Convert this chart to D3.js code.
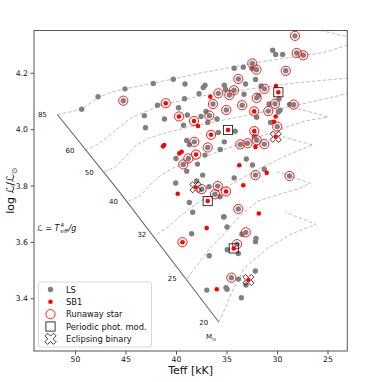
<!DOCTYPE html>
<html><head><meta charset="utf-8">
<script src="https://cdn.jsdelivr.net/npm/d3@7"></script>
<style>body{margin:0;background:#fff}svg{display:block;font-family:"DejaVu Sans",sans-serif}</style>
</head><body><svg id="c" width="382" height="382"></svg>
<script>
// ---- data ----
const lsTeff = [49.34,47.72,45.05,45.22,42.25,40.27,39.11,37.13,37.30,37.72,35.22,35.10,35.81,34.72,41.83,39.16,36.34,39.75,43.14,38.88,41.14,37.03,36.70,37.52,35.94,35.02,36.86,43.02,39.26,
28.22,30.43,30.13,29.44,28.05,27.40,32.45,33.34,34.24,32.48,32.03,29.13,33.83,32.13,34.26,33.12,33.27,31.58,31.24,29.80,32.01,31.83,33.45,30.79,30.20,28.76,28.35,29.70,29.87,30.86,32.01,30.64,29.98,
35.81,34.14,38.94,38.19,38.68,36.86,35.62,35.22,40.00,38.78,37.13,39.28,37.87,38.94,37.36,40.03,37.95,37.46,36.73,35.87,36.14,35.64,38.68,38.35,35.25,
33.64,32.92,32.25,32.01,31.26,33.04,32.43,31.26,32.13,28.76,34.24,33.83,35.28,34.95,38.45,33.09,33.47,32.08,32.13,33.96,34.93,33.83,36.71,32.15,34.52,33.81,33.07,35.05,34.95,36.95,33.53];
const lsLogL = [4.071,4.115,4.143,4.101,4.162,4.177,4.160,4.156,4.148,4.126,4.156,4.141,4.127,4.121,4.085,4.108,4.089,4.076,4.048,4.050,4.036,4.063,4.048,4.045,4.036,4.068,4.024,4.005,4.014,
4.331,4.280,4.265,4.265,4.270,4.262,4.233,4.220,4.216,4.215,4.211,4.207,4.178,4.176,4.138,4.160,4.124,4.153,4.143,4.108,4.111,4.120,4.085,4.089,4.090,4.088,4.087,4.067,4.061,4.064,4.042,4.024,4.009,
3.988,3.993,3.960,3.955,3.945,3.935,3.928,3.955,3.896,3.896,3.908,3.875,3.876,3.851,3.837,3.809,3.816,3.787,3.796,3.798,3.769,3.760,3.740,3.705,3.689,
3.946,3.950,3.974,3.961,3.947,3.894,3.873,3.858,3.837,3.834,3.827,3.717,3.688,3.653,3.629,3.634,3.627,3.612,3.601,3.592,3.572,3.559,3.551,3.497,3.473,3.468,3.447,3.438,3.432,3.429,3.402];
const sb1Teff = [41.02,36.60,39.70,38.22,37.82,34.85,36.53,41.16,41.29,39.67,39.44,38.02,39.83,38.07,35.05,36.86,30.10,29.87,32.26,30.13,30.30,32.25,30.13,32.13,33.73,31.02,33.34,31.80,36.96,39.36,34.28,32.84,35.96];
const sb1LogL = [4.092,4.115,4.045,4.029,4.011,3.997,3.980,3.944,3.939,3.914,3.920,3.910,3.771,3.794,3.779,3.745,4.153,4.131,4.063,4.045,4.026,3.993,3.973,3.937,3.872,3.845,3.801,3.701,3.649,3.599,3.577,3.465,3.432];
const runTeff = [45.22,35.81,34.72,36.34,36.70,35.02,28.22,28.05,27.40,32.45,32.03,29.13,33.83,34.26,31.24,32.01,33.45,30.20,28.35,30.86,29.98,38.19,36.86,38.78,39.28,37.46,35.87,36.14,33.64,32.92,32.01,31.26,32.13,28.76,33.83,33.09,33.96,34.52,
41.02,39.70,38.22,36.53,38.02,35.05,32.26,32.25,39.36];
const runLogL = [4.101,4.127,4.121,4.089,4.048,4.068,4.331,4.270,4.262,4.233,4.211,4.207,4.178,4.138,4.143,4.111,4.085,4.090,4.087,4.064,4.009,3.955,3.935,3.896,3.875,3.787,3.798,3.769,3.946,3.950,3.961,3.947,3.837,3.834,3.717,3.634,3.592,3.473,
4.092,4.045,4.029,3.980,3.910,3.779,4.063,3.993,3.599];
const perTeff = [34.85,36.86,29.87,34.28];
const perLogL = [3.997,3.745,4.131,3.577];
const eclTeff = [38.07,30.13,32.84];
const eclLogL = [3.794,3.973,3.465];
const zamsTeff = [51.75,45.66,35.77];
const zamsLogL = [4.052,3.780,3.316];
const trackMass = ["85","60","50","40","32","25","20"];
const trackTeff = [
 [51.75,50.50,49.34,47.72,46.34,45.05,42.28,40.30,37.92,34.65,31.39,28.22,25.35,23.04],
 [49.02,48.0,47.03,45.74,44.36,41.78,38.41,35.15,31.88,28.22,23.04],
 [47.10,46.0,45.05,44.06,42.57,40.59,38.51,34.65,31.39,28.61,23.04],
 [44.70,43.56,42.57,41.58,40.30,38.51,35.64,32.67,29.70,27.23,24.95,26.73,28.61],
 [41.90,40.79,39.80,38.91,37.92,36.14,34.65,31.68,28.71,26.44,28.22,30.00],
 [38.90,38.12,37.33,36.44,35.25,33.66,31.88,29.70,27.92,26.73,28.71,30.00],
 [35.77,35.38,34.55,33.24,30.92,28.61,26.14,29.21]];
const trackLogL = [
 [4.052,4.061,4.071,4.112,4.132,4.143,4.163,4.178,4.197,4.219,4.240,4.257,4.272,4.298],
 [3.926,3.940,3.965,4.003,4.042,4.081,4.112,4.131,4.146,4.164,4.181],
 [3.849,3.866,3.901,3.940,3.970,3.991,4.009,4.037,4.061,4.080,4.126],
 [3.745,3.763,3.802,3.834,3.862,3.887,3.922,3.961,4.000,4.029,4.043,4.061,4.078],
 [3.628,3.653,3.685,3.710,3.738,3.773,3.802,3.862,3.912,3.944,3.961,3.979],
 [3.471,3.507,3.546,3.586,3.628,3.692,3.745,3.770,3.788,3.808,3.834,3.849],
 [3.316,3.344,3.415,3.507,3.578,3.628,3.662,3.706]];
const extraTeff = [25.64,23.04];
const extraLogL = [4.350,4.328];
const xTicks = [50,45,40,35,30,25];
const yTicks = [3.4,3.6,3.8,4.0,4.2];

// ---- layout ----
const svg = d3.select("#c");
const L = 34, R = 347.3, T = 30.5, B = 351;
const x = d3.scaleLinear().domain([54.06, 23.04]).range([L, R]);
const y = d3.scaleLinear().domain([3.213, 4.35]).range([B, T]);
const ax = "#555";

const plot = svg.append("g");
plot.append("defs").append("clipPath").attr("id","clip").append("rect").attr("x",L).attr("y",T).attr("width",R-L).attr("height",B-T);
const pg = plot.append("g").attr("clip-path","url(#clip)");

const line = d3.line().x(d=>x(d[0])).y(d=>y(d[1]));
const dashed = p => pg.append("path").attr("d", line(p)).attr("fill","none").attr("stroke","#b5b5b5").attr("stroke-width",0.9).attr("stroke-dasharray","3.5,2");
trackTeff.forEach((tt,i)=> dashed(tt.map((t,j)=>[t, trackLogL[i][j]])));
dashed(extraTeff.map((t,j)=>[t, extraLogL[j]]));
pg.append("path").attr("d", line(zamsTeff.map((t,j)=>[t, zamsLogL[j]])))
  .attr("fill","none").attr("stroke","#6a6a6a").attr("stroke-width",1.1);

// track labels
const lab = svg.append("g").attr("font-size",7).attr("fill","#111").attr("text-anchor","end");
trackMass.forEach((m,i)=>{
  lab.append("text").attr("x", x(trackTeff[i][0]) - 10.5).attr("y", y(trackLogL[i][0]) + 2.8).text(m);
});
const ms = lab.append("text").attr("x", x(37.03)).attr("y", y(3.255)).attr("text-anchor","start");
ms.append("tspan").text("M");
ms.append("tspan").attr("font-size",5).attr("dy",1.5).text("⊙");

// points
pg.selectAll(".ls").data(lsTeff).join("circle").attr("cx",d=>x(d)).attr("cy",(d,i)=>y(lsLogL[i])).attr("r",2.7).attr("fill","#808080");
pg.selectAll(".sb").data(sb1Teff).join("circle").attr("cx",d=>x(d)).attr("cy",(d,i)=>y(sb1LogL[i])).attr("r",2.3).attr("fill","#ff0000");
pg.selectAll(".ru").data(runTeff).join("circle").attr("cx",d=>x(d)).attr("cy",(d,i)=>y(runLogL[i])).attr("r",4.6).attr("fill","none").attr("stroke","#ff0000").attr("stroke-width",0.9);
pg.selectAll(".pe").data(perTeff).join("rect").attr("x",d=>x(d)-4.6).attr("y",(d,i)=>y(perLogL[i])-4.6).attr("width",9.2).attr("height",9.2).attr("fill","none").attr("stroke","#222").attr("stroke-width",0.9);
function xPath(a,w){
  const p=[[w,w],[w,a],[-w,a],[-w,w],[-a,w],[-a,-w],[-w,-w],[-w,-a],[w,-a],[w,-w],[a,-w],[a,w]];
  const c=Math.SQRT1_2;
  return "M"+p.map(q=>[(q[0]-q[1])*c,(q[0]+q[1])*c].map(v=>v.toFixed(2)).join(",")).join("L")+"Z";
}
pg.selectAll(".ec").data(eclTeff).join("path").attr("d",xPath(6,1.9)).attr("transform",(d,i)=>`translate(${x(d)},${y(eclLogL[i])})`).attr("fill","none").attr("stroke","#111").attr("stroke-width",0.8);

// axes
plot.append("rect").attr("x",L).attr("y",T).attr("width",R-L).attr("height",B-T).attr("fill","none").attr("stroke",ax).attr("stroke-width",1);
const gx = svg.append("g").attr("transform",`translate(0,${B})`).call(d3.axisBottom(x).tickValues(xTicks).tickFormat(d3.format("d")).tickSize(3.5).tickPadding(2.5));
const gy = svg.append("g").attr("transform",`translate(${L},0)`).call(d3.axisLeft(y).tickValues(yTicks).tickFormat(d3.format(".1f")).tickSize(3.5).tickPadding(2.5));
[gx,gy].forEach(g=>{g.select(".domain").remove();g.selectAll("line").attr("stroke",ax);g.selectAll("text").attr("font-size",7.7).attr("fill","#111").attr("font-family","DejaVu Sans");});

svg.append("text").attr("x",(L+R)/2).attr("y",374).attr("text-anchor","middle").attr("font-size",11).attr("fill","#111").text("Teff [kK]");
const yl = svg.append("text").attr("transform",`translate(14,${(T+B)/2}) rotate(-90)`).attr("text-anchor","middle").attr("font-size",11).attr("fill","#111");
yl.append("tspan").text("log ℒ/ℒ");
yl.append("tspan").attr("font-size",7.5).attr("dy",2.5).text("⊙");

// annotation
const an = svg.append("g").attr("font-size",8).attr("fill","#111").attr("font-style","italic");
an.append("text").attr("x",37).attr("y",230.5).text("ℒ = T");
an.append("text").attr("x",60.5).attr("y",226.5).attr("font-size",5.5).attr("font-style","normal").text("4");
an.append("text").attr("x",60.5).attr("y",232.5).attr("font-size",5.5).text("eff");
an.append("text").attr("x",68.5).attr("y",230.5).text("/g");

// legend
const lg = svg.append("g");
lg.append("rect").attr("x",38.5).attr("y",282).attr("width",113).attr("height",65).attr("rx",2).attr("fill","#fff").attr("stroke","#d0d0d0").attr("stroke-width",0.8);
const rows=[289.5,301.8,314.2,326.5,338.8], lx=50.5, tx=66;
lg.append("circle").attr("cx",lx).attr("cy",rows[0]).attr("r",2.7).attr("fill","#808080");
lg.append("circle").attr("cx",lx).attr("cy",rows[1]).attr("r",2.3).attr("fill","#ff0000");
lg.append("circle").attr("cx",lx).attr("cy",rows[2]).attr("r",4.6).attr("fill","none").attr("stroke","#ff0000").attr("stroke-width",0.9);
lg.append("rect").attr("x",lx-4.6).attr("y",rows[3]-4.6).attr("width",9.2).attr("height",9.2).attr("fill","none").attr("stroke","#222").attr("stroke-width",0.9);
lg.append("path").attr("d",xPath(6,1.9)).attr("transform",`translate(${lx},${rows[4]})`).attr("fill","none").attr("stroke","#111").attr("stroke-width",0.8);
["LS","SB1","Runaway star","Periodic phot. mod.","Eclipsing binary"].forEach((t,i)=>{
  lg.append("text").attr("x",tx).attr("y",rows[i]+3).attr("font-size",8.3).attr("fill","#111").text(t);
});
</script></body></html>
